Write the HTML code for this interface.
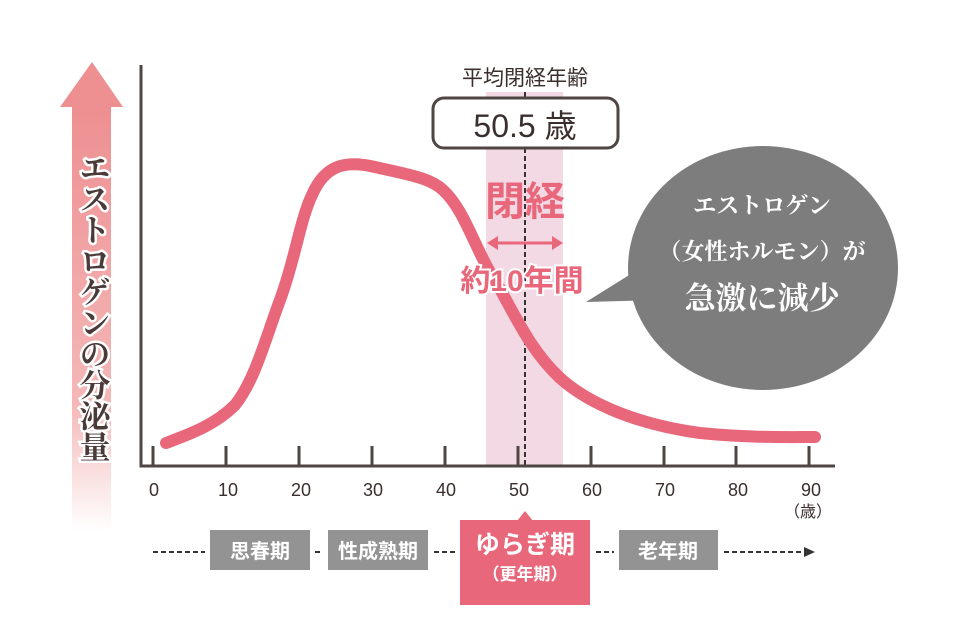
<!DOCTYPE html>
<html><head><meta charset="utf-8"><style>
html,body{margin:0;padding:0;background:#fff;width:961px;height:640px;overflow:hidden}
svg text{font-family:"Liberation Sans","Noto Sans CJK JP",sans-serif}
svg text.serif{font-family:"Liberation Serif","Noto Serif CJK SC",serif}
</style></head><body>
<svg width="961" height="640" viewBox="0 0 961 640" xmlns="http://www.w3.org/2000/svg">
<defs>
<linearGradient id="g" x1="0" y1="0" x2="0" y2="1">
<stop offset="0" stop-color="#ee8f91"/><stop offset="0.7" stop-color="#f4b8b8"/><stop offset="1" stop-color="#fff"/>
</linearGradient>
</defs>
<polygon points="92,62 123,107 60,107" fill="#ee8f91"/>
<rect x="72" y="106" width="39" height="425" fill="url(#g)"/>
<text class="serif" x="92" y="0" font-size="31" font-weight="bold" fill="#4a3a38" stroke="#fff" stroke-width="5" paint-order="stroke" style="writing-mode:vertical-rl" transform="translate(0,152)">エストロゲンの分泌量</text>
<rect x="486" y="92" width="77" height="374" fill="#f3d9e4"/>
<line x1="525" y1="92" x2="525" y2="466" stroke="#333" stroke-width="2" stroke-dasharray="5,3"/>
<polyline points="141,65 141,466 835,466" fill="none" stroke="#4f4542" stroke-width="3"/>
<g stroke="#4f4542" stroke-width="3">
<line x1="153" y1="446" x2="153" y2="466"/><line x1="226" y1="446" x2="226" y2="466"/><line x1="299" y1="446" x2="299" y2="466"/><line x1="372" y1="446" x2="372" y2="466"/><line x1="445" y1="446" x2="445" y2="466"/><line x1="518" y1="446" x2="518" y2="466"/><line x1="591" y1="446" x2="591" y2="466"/><line x1="664" y1="446" x2="664" y2="466"/><line x1="736" y1="446" x2="736" y2="466"/><line x1="809" y1="446" x2="809" y2="466"/>
</g>
<g font-size="18" fill="#3a2f2d" text-anchor="middle">
<text x="154" y="496">0</text><text x="228" y="496">10</text><text x="301" y="496">20</text><text x="373" y="496">30</text><text x="446" y="496">40</text><text x="519" y="496">50</text><text x="592" y="496">60</text><text x="665" y="496">70</text><text x="738" y="496">80</text><text x="811" y="496">90</text>
<text x="808" y="517" font-size="16">（歳）</text>
</g>
<path d="M166,443 C190,434 215,425 235,405 C255,380 265,340 280,300 C295,260 300,220 312,195 C325,165 345,160 375,167 C410,175 430,178 443,190 C465,210 475,250 495,280 C515,315 530,350 560,378 C590,405 640,425 700,433 C750,438 790,437 815,437" fill="none" stroke="#e8677a" stroke-width="12" stroke-linecap="round"/>
<text x="525" y="85" font-size="21" fill="#3a2f2d" text-anchor="middle">平均閉経年齢</text>
<rect x="433" y="98" width="185" height="50" rx="11" fill="#fff" stroke="#4f4542" stroke-width="3"/>
<text x="525" y="137" font-size="32" fill="#3a2f2d" text-anchor="middle">50.5 歳</text>
<text x="525" y="215" font-size="40" font-weight="bold" fill="#e8677a" text-anchor="middle">閉経</text>
<line x1="494" y1="243" x2="556" y2="243" stroke="#e8677a" stroke-width="3"/>
<polygon points="487,243 498,236 498,250" fill="#e8677a"/><polygon points="563,243 552,236 552,250" fill="#e8677a"/>
<text x="522" y="291" font-size="30" font-weight="bold" fill="#e8677a" stroke="#fff" stroke-width="4" paint-order="stroke" text-anchor="middle">約10年間</text>
<ellipse cx="763" cy="268" rx="135" ry="122" fill="#7d7d7d"/>
<polygon points="586,302 650,262 660,300" fill="#7d7d7d"/>
<g fill="#fff" text-anchor="middle" font-weight="bold">
<text class="serif" x="762" y="213" font-size="23">エストロゲン</text>
<text class="serif" x="762" y="259" font-size="23">（女性ホルモン）が</text>
<text class="serif" x="762" y="309" font-size="31">急激に減少</text>
</g>
<g stroke="#333" stroke-width="2" stroke-dasharray="5,3">
<line x1="153" y1="552" x2="205" y2="552"/><line x1="315" y1="552" x2="323" y2="552"/><line x1="434" y1="552" x2="455" y2="552"/><line x1="596" y1="552" x2="614" y2="552"/><line x1="724" y1="552" x2="805" y2="552"/>
</g>
<polygon points="815,552 804,547 804,557" fill="#333"/>
<rect x="210" y="530" width="100" height="40" fill="#939393"/>
<rect x="328" y="530" width="100" height="40" fill="#939393"/>
<rect x="619" y="530" width="99" height="40" fill="#939393"/>
<rect x="460" y="520" width="130" height="85" fill="#e8677a"/>
<polygon points="525,511 517,521 533,521" fill="#e8677a"/>
<g fill="#fff" text-anchor="middle" font-weight="bold">
<text x="260" y="558" font-size="20">思春期</text>
<text x="378" y="558" font-size="20">性成熟期</text>
<text x="668" y="558" font-size="20">老年期</text>
<text x="525" y="553" font-size="25">ゆらぎ期</text>
<text x="525" y="580" font-size="17">（更年期）</text>
</g>
</svg>
</body></html>
